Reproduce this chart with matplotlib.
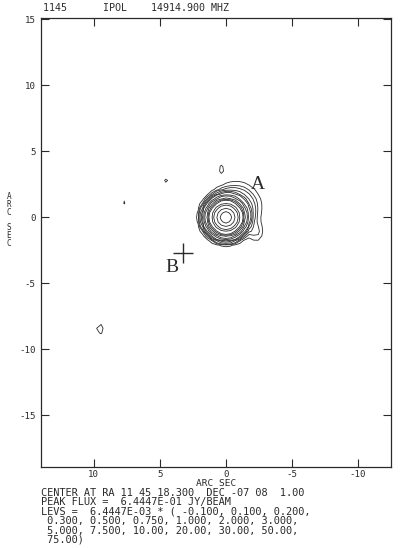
import numpy as np
import matplotlib
matplotlib.use('Agg')
import matplotlib.pyplot as plt

# map header / footer text
header = "1145      IPOL    14914.900 MHZ"
footer_lines = [
    "CENTER AT RA 11 45 18.300  DEC -07 08  1.00",
    "PEAK FLUX =  6.4447E-01 JY/BEAM",
    "LEVS =  6.4447E-03 * ( -0.100, 0.100, 0.200,",
    " 0.300, 0.500, 0.750, 1.000, 2.000, 3.000,",
    " 5.000, 7.500, 10.00, 20.00, 30.00, 50.00,",
    " 75.00)",
]

# contour levels (multiples of the base level)
lev_base = 6.4447e-3
lev_mult = [-0.1, 0.1, 0.2, 0.3, 0.5, 0.75, 1.0, 2.0, 3.0, 5.0, 7.5, 10.0, 20.0, 30.0, 50.0, 75.0]

# source model components (arcsec, Jy/beam)
comp_x = [0.0, -0.8, -2.3, 0.3, 4.5, 7.65, 9.55]
comp_y = [0.0, 0.8, -1.1, 3.65, 2.75, 1.2, -8.45]
comp_peak = [0.6445, 0.006, 0.0015, 0.00105, 0.00078, 0.00078, 0.00105]
comp_sx = [0.58, 0.9, 0.35, 0.2, 0.3, 0.3, 0.25]
comp_sy = [0.58, 0.9, 0.5, 0.3, 0.3, 0.3, 0.4]

# labelled positions
lab_text = ["A", "B"]
lab_x = [-2.42, 4.1]
lab_y = [2.5, -3.8]
cross_x = [3.26]
cross_y = [-2.73]

xticks = [10, 5, 0, -5, -10]
yticks = [15, 10, 5, 0, -5, -10, -15]

plt.rcParams['axes.unicode_minus'] = False
mono = 'DejaVu Sans Mono'
ink = '#2a2a2a'

fig = plt.figure(figsize=(4.0, 5.48), dpi=100)
ax = fig.add_axes([0.1025, 0.1478, 0.875, 0.8194])

# coarse map grid, like the original pixel size
step = 0.35
gx = step * np.arange(-36, 41)
gy = step * np.arange(-55, 44)
X, Y = np.meshgrid(gx, gy)
Z = np.zeros_like(X)
for cx, cy, pk, sx, sy in zip(comp_x, comp_y, comp_peak, comp_sx, comp_sy):
    Z += pk * np.exp(-0.5 * (((X - cx) / sx) ** 2 + ((Y - cy) / sy) ** 2))

levels = [lev_base * m for m in lev_mult]
ax.contour(X, Y, Z, levels=levels, colors=ink, linewidths=0.6)

ax.plot(cross_x, cross_y, marker='+', ms=14, mew=1.0, color=ink, ls='none')
for t, x, y in zip(lab_text, lab_x, lab_y):
    ax.text(x, y, t, family='Liberation Serif', fontsize=14, color=ink,
            ha='center', va='center')

ax.set_xlim(14.0, -12.5)
ax.set_ylim(-18.9, 15.1)
ax.set_xticks(xticks)
ax.set_yticks(yticks)
ax.set_xticklabels([str(v) for v in xticks], family=mono, fontsize=6.6, color=ink)
ax.set_yticklabels([str(v) for v in yticks], family=mono, fontsize=6.6, color=ink)
ax.tick_params(direction='in', length=6, width=0.8, color=ink, pad=2.5,
               top=True, right=True)
ax.tick_params(axis='y', pad=4)
for s in ax.spines.values():
    s.set_color(ink)
    s.set_linewidth(0.9)

fig.text(216 / 400, 1 - 484 / 548, "ARC SEC", family=mono, fontsize=6.8,
         color=ink, ha='center', va='center')
fig.text(9 / 400, 1 - 220 / 548, "A\nR\nC\n\nS\nE\nC", family=mono,
         fontsize=5.5, color=ink, ha='center', va='center', linespacing=0.85)

fig.text(43 / 400, 1 - 8 / 548, header, family=mono, fontsize=7.2,
         color=ink, ha='left', va='center')
for i, line in enumerate(footer_lines):
    fig.text(41 / 400, 1 - (493 + 9.4 * i) / 548, line, family=mono,
             fontsize=7.4, color=ink, ha='left', va='center')

fig.savefig('out.png', dpi=100, facecolor='white')
